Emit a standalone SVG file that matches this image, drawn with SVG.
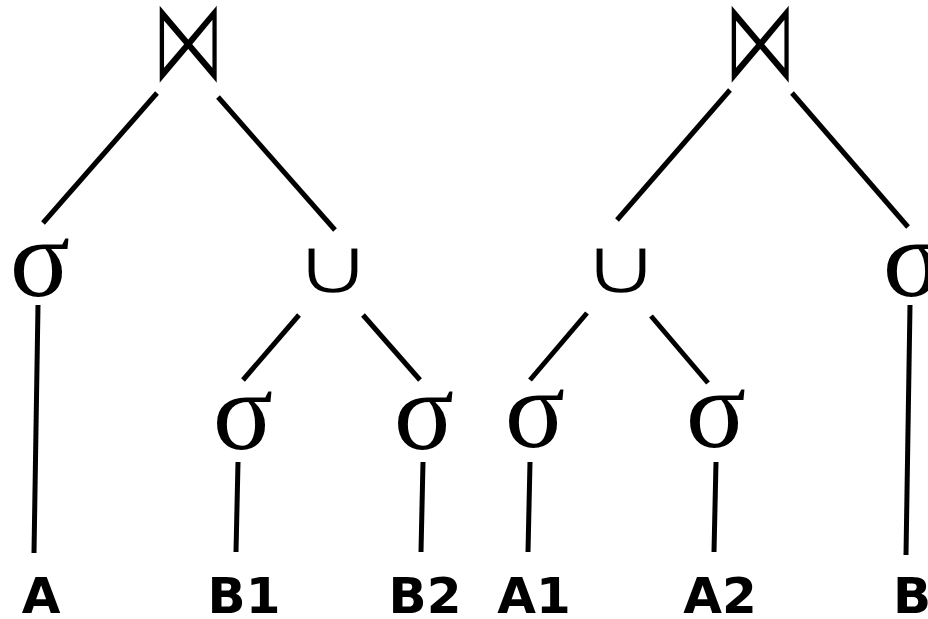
<svg xmlns="http://www.w3.org/2000/svg" width="928" height="619" viewBox="0 0 928 619">
<style>
.op{font-family:"DejaVu Sans",sans-serif;font-size:90px;fill:#000;text-anchor:middle;stroke:#fff;stroke-width:2.2px}
.un{font-family:"DejaVu Sans",sans-serif;font-size:84px;fill:#000;text-anchor:middle;stroke:#fff;stroke-width:2.4px}
.sig{font-family:"Liberation Serif",serif;font-size:112px;fill:#000;text-anchor:middle}
.lbl{font-family:"DejaVu Sans",sans-serif;font-weight:bold;font-size:50px;fill:#000;text-anchor:middle}
.e{stroke:#000;stroke-width:5;fill:none}
</style>
<rect width="928" height="619" fill="#fff"/>
<g id="connectors">
<line class="e" x1="157" y1="93" x2="43" y2="223"/>
<line class="e" x1="218" y1="97" x2="335" y2="230"/>
<line class="e" x1="38" y1="305" x2="34" y2="553"/>
<line class="e" x1="299" y1="315" x2="243" y2="380"/>
<line class="e" x1="363" y1="315" x2="420" y2="380"/>
<line class="e" x1="238" y1="462" x2="236" y2="552"/>
<line class="e" x1="423" y1="462" x2="421" y2="552"/>
<line class="e" x1="730" y1="90" x2="617" y2="220"/>
<line class="e" x1="792" y1="93" x2="908" y2="227"/>
<line class="e" x1="587" y1="313" x2="530" y2="380"/>
<line class="e" x1="651" y1="316" x2="708" y2="383"/>
<line class="e" x1="530" y1="462" x2="528" y2="552"/>
<line class="e" x1="716" y1="462" x2="714" y2="552"/>
<line class="e" x1="910" y1="305" x2="906" y2="555"/>
</g>
<g id="join1"><text class="op" transform="translate(188,82) scale(0.83,1.34)">⋈</text></g>
<g id="join2"><text class="op" transform="translate(760,82) scale(0.83,1.34)">⋈</text></g>
<g id="sel1"><text class="sig" x="40" y="296">σ</text></g>
<g id="union1"><text class="un" transform="translate(333,294) scale(1.3,0.96)">∪</text></g>
<g id="sel2"><text class="sig" x="243" y="449">σ</text></g>
<g id="sel3"><text class="sig" x="424" y="449">σ</text></g>
<g id="union2"><text class="un" transform="translate(621,294) scale(1.3,0.96)">∪</text></g>
<g id="sel4"><text class="sig" x="535" y="447">σ</text></g>
<g id="sel5"><text class="sig" x="716" y="447">σ</text></g>
<g id="sel6"><text class="sig" x="913" y="296">σ</text></g>
<g id="A"><text class="lbl" x="41" y="613">A</text></g>
<g id="B1"><text class="lbl" x="244" y="613">B1</text></g>
<g id="B2"><text class="lbl" x="425" y="613">B2</text></g>
<g id="A1"><text class="lbl" x="534" y="613">A1</text></g>
<g id="A2"><text class="lbl" x="720" y="613">A2</text></g>
<g id="B"><text class="lbl" x="912" y="613">B</text></g>
</svg>
